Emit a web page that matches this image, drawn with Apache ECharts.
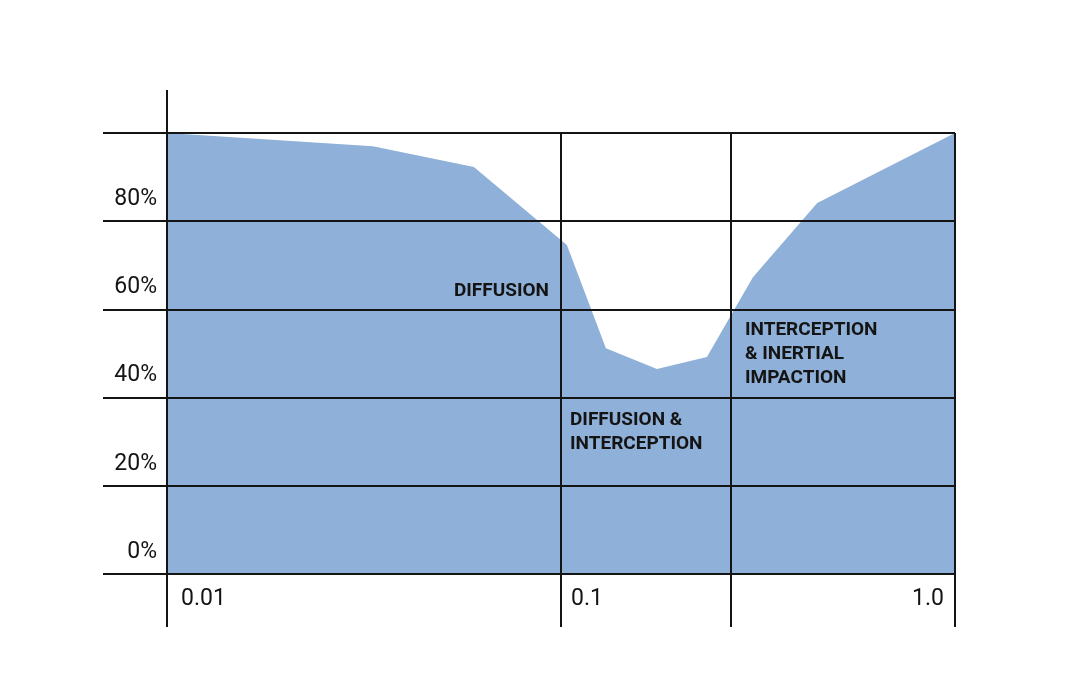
<!DOCTYPE html>
<html>
<head>
<meta charset="utf-8">
<script src="https://cdn.jsdelivr.net/npm/echarts@6/dist/echarts.min.js"></script>
<style>html,body{margin:0;padding:0;background:#fff}#c{width:1080px;height:696px}</style>
</head>
<body>
<div id="c"></div>
<script>
// particle size (µm) and collection efficiency (%)
var sizes = [0.01, 0.0333, 0.0601, 0.1035, 0.130, 0.1752, 0.2346, 0.307, 0.447, 1.0];
var efficiency = [100, 97.0, 92.3, 74.6, 51.2, 46.5, 49.2, 67.3, 84.1, 100];
var xTickValues = [0.01, 0.1, 0.27, 1.0];
var xLabelValues = [0.01, 0.1, 1.0];
var xLabelTexts = ['0.01', '0.1', '1.0'];
var yTicks = [0, 20, 40, 60, 80, 100];
var yLabels = ['0%', '20%', '40%', '60%', '80%', ''];
var regionNames = ['DIFFUSION', 'DIFFUSION &\nINTERCEPTION', 'INTERCEPTION\n& INERTIAL\nIMPACTION'];
var regionAnchors = [[0.1, 64.2], [0.1, 32.2], [0.27, 49.9]];

var ink = '#141414';
var chart = echarts.init(document.getElementById('c'));
var data = sizes.map(function (s, i) { return [s, efficiency[i]]; });

function nearest(v, arr) {
  for (var i = 0; i < arr.length; i++) {
    if (Math.abs(Math.log10(v) - Math.log10(arr[i])) < 1e-6) return i;
  }
  return -1;
}

chart.setOption({
  animation: false,
  backgroundColor: '#fff',
  grid: { left: 167, right: 125, top: 133, bottom: 122 },
  xAxis: {
    type: 'log',
    logBase: 10,
    min: 0.01,
    max: 1,
    z: 5,
    axisLine: { show: true, lineStyle: { color: ink, width: 2 } },
    axisTick: { show: true, customValues: xTickValues, length: 53, lineStyle: { color: ink, width: 2 } },
    splitLine: { show: true, lineStyle: { color: ink, width: 2 } },
    minorTick: { show: false },
    axisLabel: {
      customValues: xLabelValues,
      margin: 14,
      align: 'left',
      alignMaxLabel: 'right',
      color: ink,
      fontFamily: 'Roboto',
      fontSize: 23,
      formatter: function (v) {
        var i = nearest(v, xLabelValues);
        if (i === 0) return '{a|' + xLabelTexts[0] + '}';
        if (i === 1) return '{b|' + xLabelTexts[1] + '}';
        if (i === 2) return '{c|' + xLabelTexts[2] + '}';
        return '';
      },
      rich: {
        a: { padding: [0, 0, 0, 14], fontSize: 23, fontFamily: 'Roboto', color: ink },
        b: { padding: [0, 0, 0, 10], fontSize: 23, fontFamily: 'Roboto', color: ink },
        c: { padding: [0, 11, 0, 0], fontSize: 23, fontFamily: 'Roboto', color: ink }
      }
    }
  },
  yAxis: {
    type: 'value',
    min: 0,
    max: 100,
    interval: 20,
    z: 5,
    axisLine: { show: true, symbol: ['none', 'rect'], symbolSize: [2, 86], lineStyle: { color: ink, width: 2 } },
    axisTick: { show: true, length: 64, lineStyle: { color: ink, width: 2 } },
    splitLine: { show: true, lineStyle: { color: ink, width: 2 } },
    axisLabel: {
      margin: 10,
      color: ink,
      fontFamily: 'Roboto',
      fontSize: 23,
      verticalAlign: 'middle',
      formatter: function (v) {
        var i = yTicks.indexOf(Math.round(v));
        return (i >= 0 && yLabels[i]) ? '{p|' + yLabels[i] + '}' : '';
      },
      rich: {
        p: { padding: [0, 0, 44, 0], fontSize: 23, fontFamily: 'Roboto', color: ink }
      }
    }
  },
  series: [{
    type: 'line',
    data: data,
    showSymbol: false,
    symbol: 'none',
    z: 1,
    lineStyle: { width: 0 },
    areaStyle: { color: '#8fb0d8', opacity: 1 },
    markPoint: {
      symbol: 'circle',
      symbolSize: 0,
      z: 10,
      data: regionNames.map(function (n, i) {
        var lab = { show: true, formatter: n, position: 'inside', verticalAlign: 'middle',
          color: ink, fontFamily: 'Roboto', fontWeight: 'bold', fontSize: 19, lineHeight: 24 };
        if (i === 0) { lab.align = 'right'; lab.offset = [-12, 0]; }
        else if (i === 1) { lab.align = 'left'; lab.offset = [9, 0]; }
        else { lab.align = 'left'; lab.offset = [14, 0]; }
        return { coord: regionAnchors[i], label: lab };
      })
    }
  }]
});
</script>
</body>
</html>
